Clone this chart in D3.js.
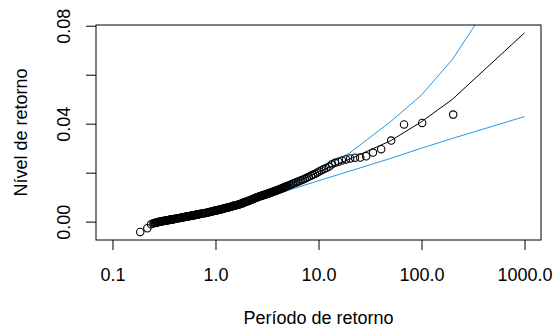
<!DOCTYPE html>
<html>
<head>
<meta charset="utf-8">
<script src="https://cdn.jsdelivr.net/npm/d3@7"></script>
<style>
  body { margin: 0; background: #fff; }
  text { font-family: "Liberation Sans", Arial, Helvetica, sans-serif; font-size: 18px; fill: #000; }
</style>
</head>
<body>
<svg id="chart" width="554" height="331"></svg>
<script>
const periods = [
  0.186, 0.218, 0.237,
  0.250, 0.255, 0.260, 0.265, 0.270, 0.275, 0.280, 0.285, 0.290, 0.295, 0.300, 0.305, 0.310, 0.315, 0.320,
  0.325, 0.330, 0.335, 0.340, 0.345, 0.350, 0.355, 0.360, 0.365, 0.370, 0.375, 0.380, 0.385, 0.390, 0.395,
  0.40, 0.41, 0.42, 0.43, 0.44, 0.45, 0.46, 0.47, 0.48, 0.49, 0.50, 0.51, 0.52, 0.53, 0.54,
  0.55, 0.56, 0.57, 0.58, 0.59, 0.60, 0.61, 0.62, 0.63, 0.64, 0.65, 0.66, 0.67, 0.68, 0.69,
  0.70, 0.72, 0.74, 0.76, 0.78, 0.80, 0.82, 0.84, 0.86, 0.88, 0.90, 0.92,
  0.94, 0.96, 0.98, 1.00, 1.02, 1.04, 1.06, 1.08, 1.10, 1.12, 1.14, 1.16, 1.18,
  1.20, 1.23, 1.26, 1.29, 1.32, 1.35, 1.38, 1.41, 1.44, 1.47, 1.50, 1.53, 1.56, 1.59,
  1.62, 1.65, 1.68, 1.71, 1.74, 1.77, 1.80, 1.83, 1.86, 1.89, 1.92, 1.95, 1.98,
  2.00, 2.05, 2.10, 2.15, 2.20, 2.25, 2.30, 2.35, 2.40, 2.45, 2.50, 2.55, 2.60, 2.65, 2.70,
  2.75, 2.80, 2.85, 2.90, 2.95, 3.00, 3.05, 3.10, 3.15, 3.20, 3.25, 3.30, 3.35, 3.40, 3.45,
  3.50, 3.58, 3.66, 3.74, 3.82, 3.90, 3.98, 4.06, 4.14, 4.22,
  4.30, 4.38, 4.46, 4.54, 4.62, 4.70, 4.78, 4.86, 4.94,
  5.08, 5.25, 5.43, 5.62, 5.83, 6.05, 6.28, 6.53, 6.8, 7.08, 7.38, 7.7, 8.05, 8.46, 8.8, 9.2, 9.67, 10.15,
  10.7, 11.3, 11.9, 12.7, 13.5, 14.5, 15.6, 16.9, 18.5, 20.3, 22.6, 25.4, 29.0, 33.8, 40.6, 50.75, 67.7, 101.5, 203
];
const levels = [
  -0.0042, -0.0027, -0.0011,
  -0.00070, -0.00060, -0.00051, -0.00043, -0.00034, -0.00025, -0.00016, -0.00008, 0.00000, 0.00006, 0.00012, 0.00017, 0.00023, 0.00028, 0.00034,
  0.00039, 0.00045, 0.00049, 0.00054, 0.00059, 0.00064, 0.00069, 0.00073, 0.00078, 0.00083, 0.00087, 0.00092, 0.00096, 0.00101, 0.00106,
  0.00110, 0.00119, 0.00127, 0.00135, 0.00143, 0.00151, 0.00159, 0.00167, 0.00174, 0.00181, 0.00189, 0.00196, 0.00202, 0.00209, 0.00215,
  0.00222, 0.00228, 0.00235, 0.00241, 0.00247, 0.00253, 0.00259, 0.00265, 0.00270, 0.00276, 0.00282, 0.00288, 0.00293, 0.00298, 0.00303,
  0.00308, 0.00318, 0.00328, 0.00338, 0.00347, 0.00356, 0.00365, 0.00374, 0.00384, 0.00394, 0.00404, 0.00414,
  0.00423, 0.00432, 0.00441, 0.00450, 0.00459, 0.00467, 0.00475, 0.00483, 0.00491, 0.00499, 0.00507, 0.00515, 0.00522,
  0.00529, 0.00542, 0.00554, 0.00567, 0.00578, 0.00590, 0.00601, 0.00612, 0.00623, 0.00634, 0.00644, 0.00655, 0.00665, 0.00674,
  0.00684, 0.00693, 0.00703, 0.00712, 0.00721, 0.00733, 0.00744, 0.00756, 0.00767, 0.00778, 0.00788, 0.00798, 0.00809,
  0.00815, 0.00832, 0.00848, 0.00864, 0.00883, 0.00901, 0.00919, 0.00936, 0.00953, 0.00970, 0.00986, 0.00999, 0.01011, 0.01022, 0.01033,
  0.01044, 0.01055, 0.01065, 0.01076, 0.01086, 0.01096, 0.01107, 0.01117, 0.01128, 0.01138, 0.01149, 0.01159, 0.01169, 0.01179, 0.01188,
  0.01198, 0.01213, 0.01228, 0.01243, 0.01257, 0.01272, 0.01286, 0.01300, 0.01313, 0.01327,
  0.01340, 0.01353, 0.01367, 0.01381, 0.01395, 0.01409, 0.01422, 0.01436, 0.01449,
  0.0147, 0.0150, 0.0152, 0.0155, 0.0158, 0.0160, 0.0163, 0.0166, 0.0169, 0.0172, 0.0175, 0.0179, 0.0183, 0.0187, 0.0191, 0.0195, 0.0200, 0.0205,
  0.0210, 0.0215, 0.0219, 0.0225, 0.0234, 0.0240, 0.0245, 0.0250, 0.0254, 0.0258, 0.0261, 0.0262, 0.0267, 0.0282, 0.0296, 0.0331, 0.0397, 0.0403, 0.0437
];

// fitted return level and confidence bounds
const linePeriods = [0.25, 0.5, 1, 2, 5, 10, 20, 50, 100, 200, 1000];
const fitLevels   = [-0.0007, 0.0019, 0.0045, 0.0082, 0.0146, 0.0204, 0.0255, 0.0330, 0.0408, 0.0500, 0.0771];
const upperLevels = [-0.0006, 0.0020, 0.0046, 0.0084, 0.0150, 0.0213, 0.0280, 0.0408, 0.0517, 0.0663, 0.111];
const lowerLevels = [-0.0008, 0.0018, 0.0043, 0.0077, 0.0127, 0.0167, 0.0206, 0.0258, 0.0300, 0.0340, 0.0429];

const xTicks = [0.1, 1, 10, 100, 1000];
const xTickLabels = ["0.1", "1.0", "10.0", "100.0", "1000.0"];
const yTicks = [0, 0.02, 0.04, 0.06, 0.08];
const yTickLabels = ["0.00", "", "0.04", "", "0.08"];

const pLeft = 96, pRight = 541, pTop = 25, pBottom = 240;
const svg = d3.select("#chart");

const x = d3.scaleLog().domain([Math.pow(10, -1.16), Math.pow(10, 3.16)]).range([pLeft, pRight]);
const y = d3.scaleLinear().domain([-0.0075, 0.0803]).range([pBottom, pTop]);

svg.append("defs").append("clipPath").attr("id", "plotclip")
  .append("rect").attr("x", pLeft).attr("y", pTop).attr("width", pRight - pLeft).attr("height", pBottom - pTop);

// x axis
const xAxis = svg.append("g").attr("transform", `translate(0,${pBottom})`)
  .call(d3.axisBottom(x).tickValues(xTicks).tickSize(10).tickFormat((d, i) => xTickLabels[i]));
xAxis.select(".domain").remove();
xAxis.selectAll("line").attr("stroke", "#000");
xAxis.selectAll("text").attr("y", 40.5).attr("dy", null).style("font-size", "18px");

// y axis
const yAxis = svg.append("g").attr("transform", `translate(${pLeft},0)`)
  .call(d3.axisLeft(y).tickValues(yTicks).tickSize(10).tickFormat((d, i) => yTickLabels[i]));
yAxis.select(".domain").remove();
yAxis.selectAll("line").attr("stroke", "#000");
yAxis.selectAll("text")
  .attr("x", null).attr("dy", null).attr("text-anchor", "middle")
  .attr("transform", "translate(-26,0) rotate(-90)")
  .style("font-size", "18px");

// lines
const line = d3.line().x(d => x(d[0])).y(d => y(d[1]));
const series = [
  { vals: fitLevels, color: "#000" },
  { vals: upperLevels, color: "#2297E6" },
  { vals: lowerLevels, color: "#2297E6" }
];
svg.append("g").attr("clip-path", "url(#plotclip)")
  .selectAll("path").data(series).join("path")
  .attr("d", s => line(linePeriods.map((p, i) => [p, s.vals[i]])))
  .attr("fill", "none")
  .attr("stroke", s => s.color)
  .attr("stroke-width", 1);

// points
svg.append("g").selectAll("circle")
  .data(periods.map((p, i) => [p, levels[i]]))
  .join("circle")
  .attr("cx", d => x(d[0]))
  .attr("cy", d => y(d[1]))
  .attr("r", 3.7)
  .attr("fill", "none")
  .attr("stroke", "#000")
  .attr("stroke-width", 1.1);

// box
svg.append("rect").attr("x", pLeft).attr("y", pTop).attr("width", pRight - pLeft).attr("height", pBottom - pTop)
  .attr("fill", "none").attr("stroke", "#000").attr("stroke-width", 1);

// axis titles
svg.append("text").attr("x", (pLeft + pRight) / 2).attr("y", 324).attr("text-anchor", "middle")
  .text("Período de retorno");
svg.append("text").attr("transform", `translate(26.5,${(pTop + pBottom) / 2}) rotate(-90)`)
  .attr("text-anchor", "middle").text("Nível de retorno");
</script>
</body>
</html>
